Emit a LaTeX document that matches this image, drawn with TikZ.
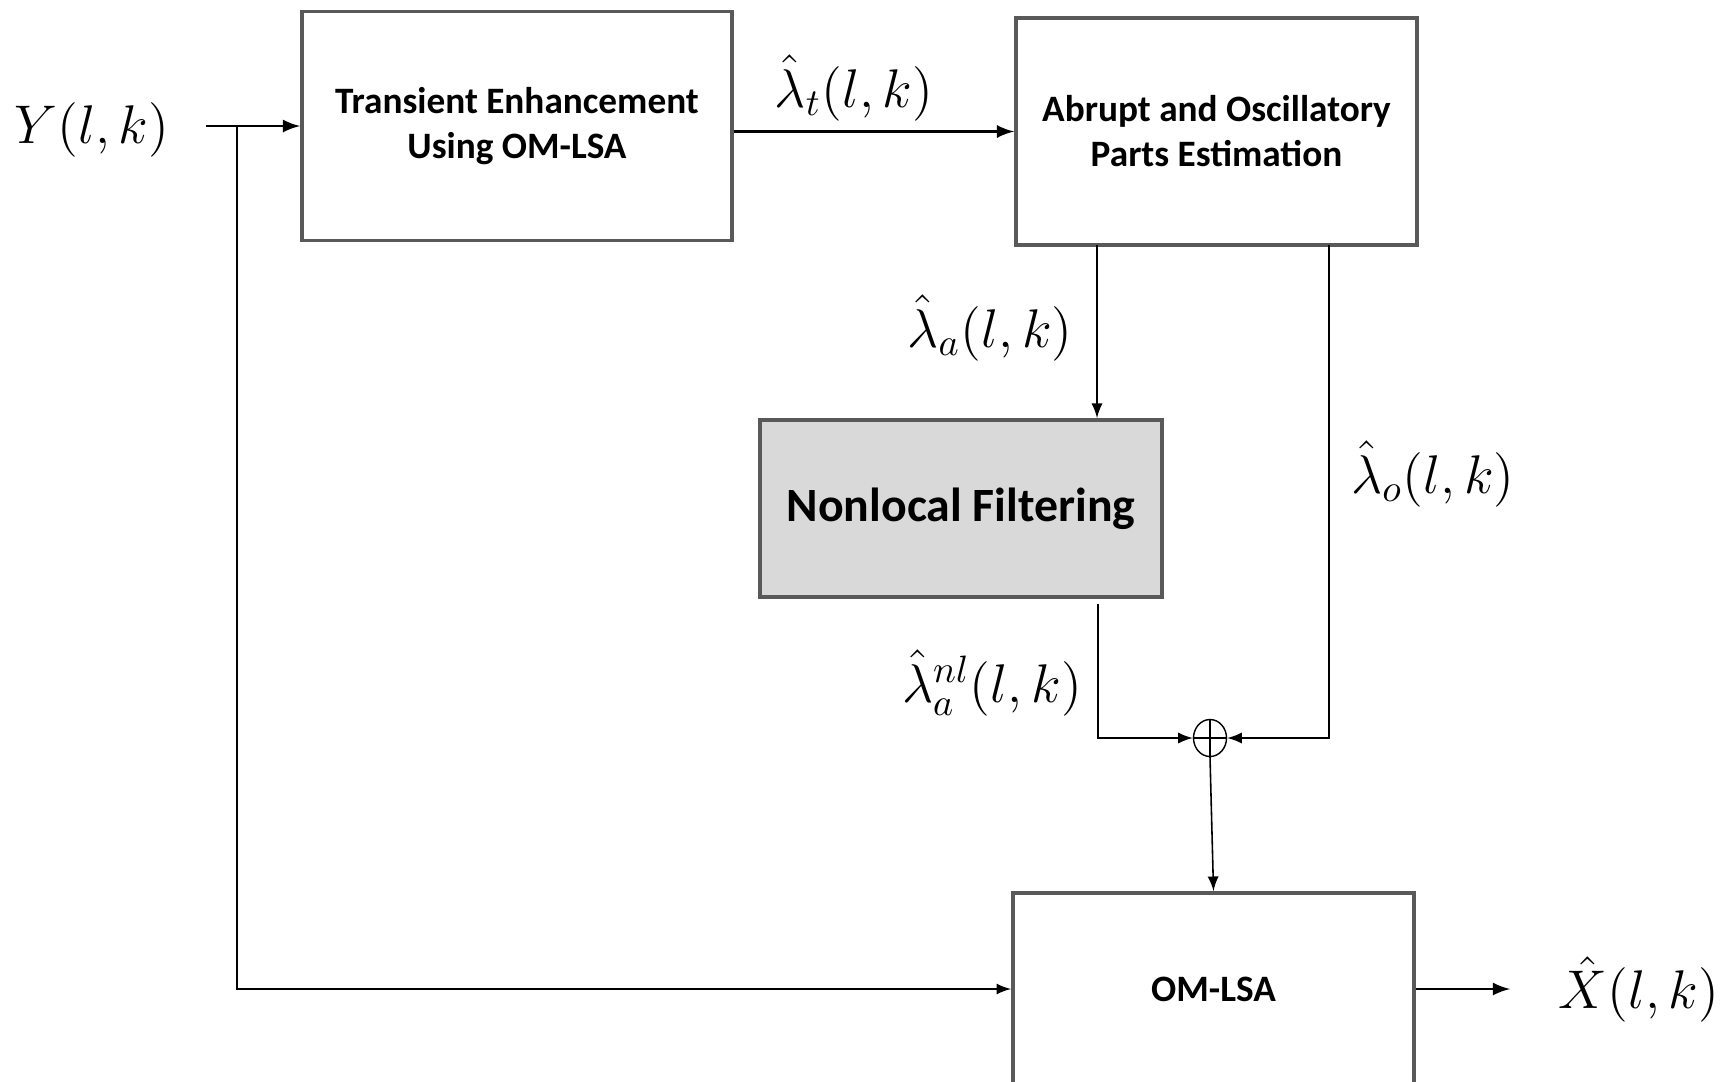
\RequirePackage{fix-cm}
\documentclass[tikz,border=0pt]{standalone}
\usepackage{fontspec}
\setsansfont{Carlito}
\usetikzlibrary{arrows.meta}
\usetikzlibrary{shapes.geometric}

\begin{document}
\begin{tikzpicture}[x=0.1mm,y=-0.1mm,>=latex]
  \useasboundingbox (0,0) rectangle (1728,1081); % 画面
  \tikzset{
    blk/.style={draw=black!65, line width=1.1pt, fill=white, align=center,
      inner sep=0pt, font=\sffamily\bfseries\fontsize{10.6}{12.8}\selectfont},
    sig/.style={font=\fontsize{15.5}{18}\selectfont},
    wire/.style={line width=0.45pt},
    feed/.style={line width=0.7pt},
  }

  % ブロック
  \node[blk, minimum width=43mm, minimum height=22.9mm] (te) at (517,126)
    {Transient Enhancement\\Using OM-LSA};
  \node[blk, minimum width=40.1mm, minimum height=22.7mm] (ao) at (1216.5,131.5)
    {Abrupt and Oscillatory\\Parts Estimation};
  \node[blk, fill=black!15, minimum width=40.2mm, minimum height=17.7mm,
    font=\sffamily\bfseries\fontsize{13.6}{16}\selectfont] (nf) at (961,508.5)
    {Nonlocal Filtering};
  \node[blk, minimum width=40.1mm, minimum height=19.2mm] (om) at (1213.5,989)
    {OM-LSA};
  % 加算
  \node[ellipse, draw, line width=0.4pt, minimum width=3.3mm, minimum height=3.7mm,
    inner sep=0pt] (sum) at (1210,738) {};
  \draw[line width=0.3pt] (sum.north) -- (sum.south) (sum.west) -- (sum.east);

  % 信号
  \node[sig] (y) at (92,130) {$Y(l,k)$};
  \node[sig] (lt) at (854,88) {$\hat{\lambda}_t(l,k)$};
  \node[sig] (la) at (990,328) {$\hat{\lambda}_a(l,k)$};
  \node[sig] (lo) at (1433,474) {$\hat{\lambda}_o(l,k)$};
  \node[sig] (lnl) at (992,683) {$\hat{\lambda}_a^{nl}(l,k)$};
  \node[sig] (x) at (1639,989) {$\hat{X}(l,k)$};

  % 端点
  \coordinate (in) at (206,126);
  \coordinate (br) at (237,126);
  \coordinate (a1) at (1097,245);
  \coordinate (a2) at (1098,604);
  \coordinate (o1) at (1329,245);
  \coordinate (out) at (1510,989);

  % 矢印
  \draw[feed,->] (in) -- (te.west);
  \draw[wire,->] (br) |- (om.west);
  \draw[feed,->] (te.east |- ao.west) -- (ao.west);
  \draw[wire,->] (a1) -- (a1 |- nf.north);
  \draw[wire,->] (a2) |- (sum.west);
  \draw[wire,->] (o1) |- (sum.east);
  \draw[wire,->] (sum.south) -- (om.north);
  \draw[feed,->] (om.east) -- (out);
\end{tikzpicture}
\end{document}
